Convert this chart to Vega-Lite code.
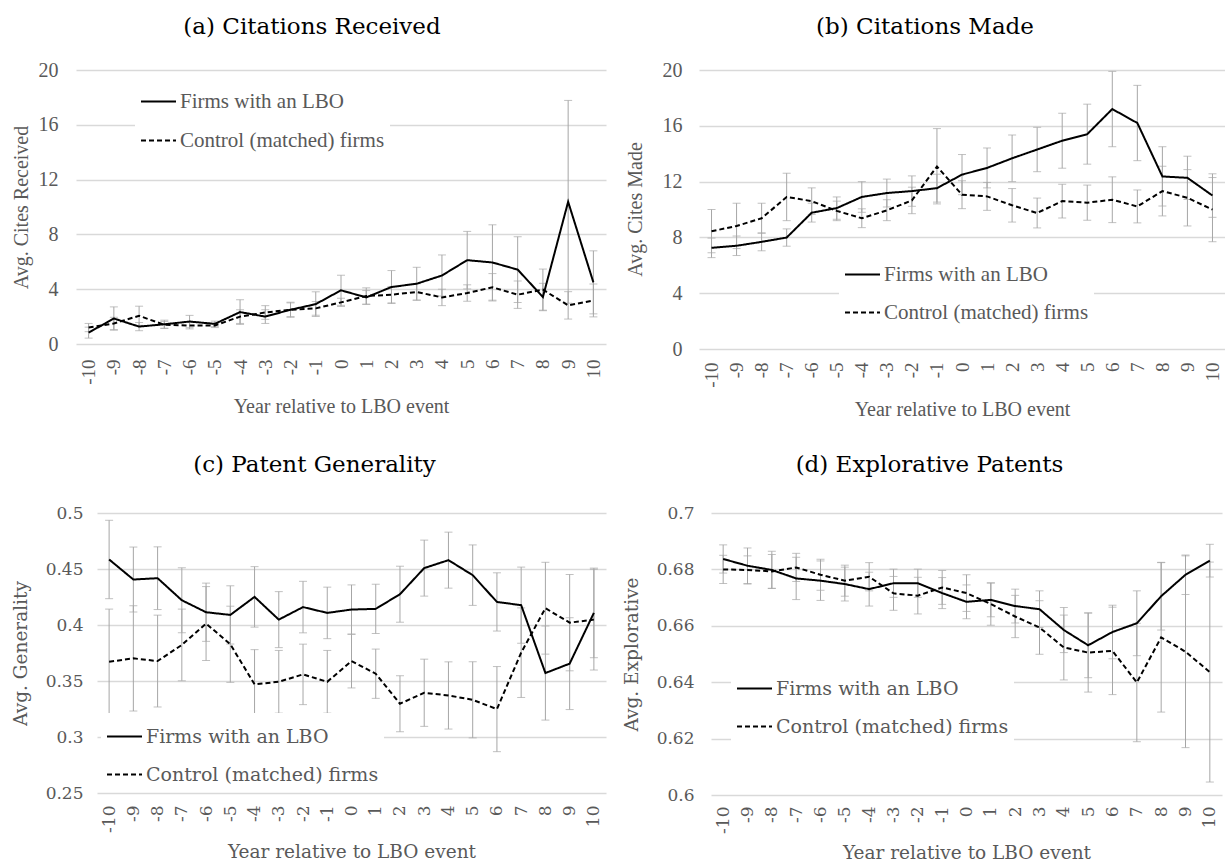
{
  "$schema": "https://vega.github.io/schema/vega-lite/v6.json",
  "background": "white",
  "padding": {"left": 10, "top": 16, "right": 0, "bottom": 0},
  "config": {
    "view": {"stroke": null},
    "axis": {"domain": false, "ticks": false, "gridColor": "#d9d9d9", "gridWidth": 1.3, "labelColor": "#595959", "titleColor": "#595959", "titleFontWeight": "normal"},
    "title": {"font": "DejaVu Serif", "fontSize": 23, "fontWeight": "normal", "color": "black", "anchor": "middle", "frame": "group", "baseline": "alphabetic"},
    "legend": {"title": null, "symbolType": "stroke", "symbolSize": 1225, "symbolStrokeWidth": 2, "symbolStrokeColor": "black", "labelColor": "#595959", "labelOffset": 3, "fillColor": "white", "padding": 5, "labelLimit": 400}
  },
  "datasets": {
    "a": [
      {"yr": -10, "s": "Firms with an LBO", "v": 0.83, "lo": 0.43, "hi": 1.23},
      {"yr": -9, "s": "Firms with an LBO", "v": 1.86, "lo": 1.01, "hi": 2.71},
      {"yr": -8, "s": "Firms with an LBO", "v": 1.27, "lo": 0.97, "hi": 1.57},
      {"yr": -7, "s": "Firms with an LBO", "v": 1.44, "lo": 1.14, "hi": 1.74},
      {"yr": -6, "s": "Firms with an LBO", "v": 1.64, "lo": 1.19, "hi": 2.09},
      {"yr": -5, "s": "Firms with an LBO", "v": 1.47, "lo": 1.27, "hi": 1.67},
      {"yr": -4, "s": "Firms with an LBO", "v": 2.33, "lo": 1.43, "hi": 3.23},
      {"yr": -3, "s": "Firms with an LBO", "v": 2.0, "lo": 1.5, "hi": 2.5},
      {"yr": -2, "s": "Firms with an LBO", "v": 2.5, "lo": 1.95, "hi": 3.05},
      {"yr": -1, "s": "Firms with an LBO", "v": 2.91, "lo": 2.01, "hi": 3.81},
      {"yr": 0, "s": "Firms with an LBO", "v": 3.92, "lo": 2.82, "hi": 5.02},
      {"yr": 1, "s": "Firms with an LBO", "v": 3.4, "lo": 2.9, "hi": 3.9},
      {"yr": 2, "s": "Firms with an LBO", "v": 4.16, "lo": 2.96, "hi": 5.36},
      {"yr": 3, "s": "Firms with an LBO", "v": 4.4, "lo": 3.2, "hi": 5.6},
      {"yr": 4, "s": "Firms with an LBO", "v": 5.0, "lo": 3.5, "hi": 6.5},
      {"yr": 5, "s": "Firms with an LBO", "v": 6.12, "lo": 4.02, "hi": 8.22},
      {"yr": 6, "s": "Firms with an LBO", "v": 5.95, "lo": 3.2, "hi": 8.7},
      {"yr": 7, "s": "Firms with an LBO", "v": 5.43, "lo": 3.03, "hi": 7.83},
      {"yr": 8, "s": "Firms with an LBO", "v": 3.43, "lo": 2.43, "hi": 4.43},
      {"yr": 9, "s": "Firms with an LBO", "v": 10.38, "lo": 2.98, "hi": 17.78},
      {"yr": 10, "s": "Firms with an LBO", "v": 4.5, "lo": 2.2, "hi": 6.8},
      {"yr": -10, "s": "Control (matched) firms", "v": 1.2, "lo": 0.9, "hi": 1.5},
      {"yr": -9, "s": "Control (matched) firms", "v": 1.5, "lo": 1.05, "hi": 1.95},
      {"yr": -8, "s": "Control (matched) firms", "v": 2.06, "lo": 1.36, "hi": 2.76},
      {"yr": -7, "s": "Control (matched) firms", "v": 1.4, "lo": 1.15, "hi": 1.65},
      {"yr": -6, "s": "Control (matched) firms", "v": 1.35, "lo": 1.1, "hi": 1.6},
      {"yr": -5, "s": "Control (matched) firms", "v": 1.35, "lo": 1.2, "hi": 1.5},
      {"yr": -4, "s": "Control (matched) firms", "v": 2.0, "lo": 1.5, "hi": 2.5},
      {"yr": -3, "s": "Control (matched) firms", "v": 2.3, "lo": 1.8, "hi": 2.8},
      {"yr": -2, "s": "Control (matched) firms", "v": 2.5, "lo": 2.0, "hi": 3.0},
      {"yr": -1, "s": "Control (matched) firms", "v": 2.6, "lo": 2.1, "hi": 3.1},
      {"yr": 0, "s": "Control (matched) firms", "v": 3.04, "lo": 2.74, "hi": 3.34},
      {"yr": 1, "s": "Control (matched) firms", "v": 3.5, "lo": 2.9, "hi": 4.1},
      {"yr": 2, "s": "Control (matched) firms", "v": 3.6, "lo": 3.0, "hi": 4.2},
      {"yr": 3, "s": "Control (matched) firms", "v": 3.8, "lo": 3.2, "hi": 4.4},
      {"yr": 4, "s": "Control (matched) firms", "v": 3.4, "lo": 2.8, "hi": 4.0},
      {"yr": 5, "s": "Control (matched) firms", "v": 3.72, "lo": 3.12, "hi": 4.32},
      {"yr": 6, "s": "Control (matched) firms", "v": 4.14, "lo": 3.14, "hi": 5.14},
      {"yr": 7, "s": "Control (matched) firms", "v": 3.6, "lo": 2.6, "hi": 4.6},
      {"yr": 8, "s": "Control (matched) firms", "v": 3.97, "lo": 2.47, "hi": 5.47},
      {"yr": 9, "s": "Control (matched) firms", "v": 2.82, "lo": 1.82, "hi": 3.82},
      {"yr": 10, "s": "Control (matched) firms", "v": 3.18, "lo": 1.98, "hi": 4.38}
    ],
    "b": [
      {"yr": -10, "s": "Firms with an LBO", "v": 7.25, "lo": 6.55, "hi": 7.95},
      {"yr": -9, "s": "Firms with an LBO", "v": 7.4, "lo": 6.7, "hi": 8.1},
      {"yr": -8, "s": "Firms with an LBO", "v": 7.68, "lo": 7.04, "hi": 8.32},
      {"yr": -7, "s": "Firms with an LBO", "v": 7.99, "lo": 7.37, "hi": 8.61},
      {"yr": -6, "s": "Firms with an LBO", "v": 9.77, "lo": 9.1, "hi": 10.45},
      {"yr": -5, "s": "Firms with an LBO", "v": 10.1, "lo": 9.3, "hi": 10.9},
      {"yr": -4, "s": "Firms with an LBO", "v": 10.9, "lo": 9.8, "hi": 12.0},
      {"yr": -3, "s": "Firms with an LBO", "v": 11.18, "lo": 10.18, "hi": 12.18},
      {"yr": -2, "s": "Firms with an LBO", "v": 11.32, "lo": 10.23, "hi": 12.41},
      {"yr": -1, "s": "Firms with an LBO", "v": 11.53, "lo": 10.53, "hi": 12.53},
      {"yr": 0, "s": "Firms with an LBO", "v": 12.5, "lo": 11.06, "hi": 13.94},
      {"yr": 1, "s": "Firms with an LBO", "v": 12.98, "lo": 11.55, "hi": 14.41},
      {"yr": 2, "s": "Firms with an LBO", "v": 13.67, "lo": 12.0, "hi": 15.34},
      {"yr": 3, "s": "Firms with an LBO", "v": 14.3, "lo": 12.71, "hi": 15.89},
      {"yr": 4, "s": "Firms with an LBO", "v": 14.93, "lo": 12.96, "hi": 16.9},
      {"yr": 5, "s": "Firms with an LBO", "v": 15.4, "lo": 13.25, "hi": 17.55},
      {"yr": 6, "s": "Firms with an LBO", "v": 17.2, "lo": 14.5, "hi": 19.9},
      {"yr": 7, "s": "Firms with an LBO", "v": 16.2, "lo": 13.5, "hi": 18.9},
      {"yr": 8, "s": "Firms with an LBO", "v": 12.37, "lo": 10.25, "hi": 14.5},
      {"yr": 9, "s": "Firms with an LBO", "v": 12.27, "lo": 10.72, "hi": 13.82},
      {"yr": 10, "s": "Firms with an LBO", "v": 11.0, "lo": 9.44, "hi": 12.56},
      {"yr": -10, "s": "Control (matched) firms", "v": 8.44, "lo": 6.9, "hi": 10.0},
      {"yr": -9, "s": "Control (matched) firms", "v": 8.82, "lo": 7.2, "hi": 10.45},
      {"yr": -8, "s": "Control (matched) firms", "v": 9.37, "lo": 8.3, "hi": 10.45},
      {"yr": -7, "s": "Control (matched) firms", "v": 10.9, "lo": 9.2, "hi": 12.6},
      {"yr": -6, "s": "Control (matched) firms", "v": 10.6, "lo": 9.65, "hi": 11.55},
      {"yr": -5, "s": "Control (matched) firms", "v": 9.9, "lo": 9.2, "hi": 10.6},
      {"yr": -4, "s": "Control (matched) firms", "v": 9.37, "lo": 8.7, "hi": 10.05},
      {"yr": -3, "s": "Control (matched) firms", "v": 9.94, "lo": 9.2, "hi": 10.7},
      {"yr": -2, "s": "Control (matched) firms", "v": 10.65, "lo": 9.7, "hi": 11.6},
      {"yr": -1, "s": "Control (matched) firms", "v": 13.08, "lo": 10.4, "hi": 15.8},
      {"yr": 0, "s": "Control (matched) firms", "v": 11.06, "lo": 10.06, "hi": 12.06},
      {"yr": 1, "s": "Control (matched) firms", "v": 10.94, "lo": 9.94, "hi": 11.94},
      {"yr": 2, "s": "Control (matched) firms", "v": 10.3, "lo": 9.1, "hi": 11.5},
      {"yr": 3, "s": "Control (matched) firms", "v": 9.75, "lo": 8.68, "hi": 10.82},
      {"yr": 4, "s": "Control (matched) firms", "v": 10.6, "lo": 9.39, "hi": 11.81},
      {"yr": 5, "s": "Control (matched) firms", "v": 10.49, "lo": 9.23, "hi": 11.75},
      {"yr": 6, "s": "Control (matched) firms", "v": 10.7, "lo": 9.06, "hi": 12.34},
      {"yr": 7, "s": "Control (matched) firms", "v": 10.22, "lo": 9.04, "hi": 11.4},
      {"yr": 8, "s": "Control (matched) firms", "v": 11.32, "lo": 9.54, "hi": 13.1},
      {"yr": 9, "s": "Control (matched) firms", "v": 10.84, "lo": 8.82, "hi": 12.86},
      {"yr": 10, "s": "Control (matched) firms", "v": 9.99, "lo": 7.69, "hi": 12.29}
    ],
    "c": [
      {"yr": -10, "s": "Firms with an LBO", "v": 0.4585, "lo": 0.4235, "hi": 0.4935},
      {"yr": -9, "s": "Firms with an LBO", "v": 0.4406, "lo": 0.4116, "hi": 0.4696},
      {"yr": -8, "s": "Firms with an LBO", "v": 0.4418, "lo": 0.4138, "hi": 0.4698},
      {"yr": -7, "s": "Firms with an LBO", "v": 0.4221, "lo": 0.3931, "hi": 0.4511},
      {"yr": -6, "s": "Firms with an LBO", "v": 0.4114, "lo": 0.3854, "hi": 0.4374},
      {"yr": -5, "s": "Firms with an LBO", "v": 0.409, "lo": 0.383, "hi": 0.435},
      {"yr": -4, "s": "Firms with an LBO", "v": 0.4251, "lo": 0.3981, "hi": 0.4521},
      {"yr": -3, "s": "Firms with an LBO", "v": 0.4048, "lo": 0.3798, "hi": 0.4298},
      {"yr": -2, "s": "Firms with an LBO", "v": 0.416, "lo": 0.393, "hi": 0.439},
      {"yr": -1, "s": "Firms with an LBO", "v": 0.4108, "lo": 0.3878, "hi": 0.4338},
      {"yr": 0, "s": "Firms with an LBO", "v": 0.4138, "lo": 0.3918, "hi": 0.4358},
      {"yr": 1, "s": "Firms with an LBO", "v": 0.4144, "lo": 0.3924, "hi": 0.4364},
      {"yr": 2, "s": "Firms with an LBO", "v": 0.4275, "lo": 0.4025, "hi": 0.4525},
      {"yr": 3, "s": "Firms with an LBO", "v": 0.4508, "lo": 0.4258, "hi": 0.4758},
      {"yr": 4, "s": "Firms with an LBO", "v": 0.4579, "lo": 0.4329, "hi": 0.4829},
      {"yr": 5, "s": "Firms with an LBO", "v": 0.4445, "lo": 0.4175, "hi": 0.4715},
      {"yr": 6, "s": "Firms with an LBO", "v": 0.4206, "lo": 0.3946, "hi": 0.4466},
      {"yr": 7, "s": "Firms with an LBO", "v": 0.4177, "lo": 0.3837, "hi": 0.4517},
      {"yr": 8, "s": "Firms with an LBO", "v": 0.3571, "lo": 0.3151, "hi": 0.3991},
      {"yr": 9, "s": "Firms with an LBO", "v": 0.3655, "lo": 0.3245, "hi": 0.4065},
      {"yr": 10, "s": "Firms with an LBO", "v": 0.4108, "lo": 0.3708, "hi": 0.4508},
      {"yr": -10, "s": "Control (matched) firms", "v": 0.3672, "lo": 0.3202, "hi": 0.4142},
      {"yr": -9, "s": "Control (matched) firms", "v": 0.3702, "lo": 0.3232, "hi": 0.4172},
      {"yr": -8, "s": "Control (matched) firms", "v": 0.3678, "lo": 0.3268, "hi": 0.4088},
      {"yr": -7, "s": "Control (matched) firms", "v": 0.3822, "lo": 0.3502, "hi": 0.4142},
      {"yr": -6, "s": "Control (matched) firms", "v": 0.4013, "lo": 0.3683, "hi": 0.4343},
      {"yr": -5, "s": "Control (matched) firms", "v": 0.3828, "lo": 0.3488, "hi": 0.4168},
      {"yr": -4, "s": "Control (matched) firms", "v": 0.347, "lo": 0.316, "hi": 0.378},
      {"yr": -3, "s": "Control (matched) firms", "v": 0.3493, "lo": 0.3213, "hi": 0.3773},
      {"yr": -2, "s": "Control (matched) firms", "v": 0.3559, "lo": 0.3289, "hi": 0.3829},
      {"yr": -1, "s": "Control (matched) firms", "v": 0.3493, "lo": 0.3213, "hi": 0.3773},
      {"yr": 0, "s": "Control (matched) firms", "v": 0.3678, "lo": 0.3438, "hi": 0.3918},
      {"yr": 1, "s": "Control (matched) firms", "v": 0.3565, "lo": 0.3345, "hi": 0.3785},
      {"yr": 2, "s": "Control (matched) firms", "v": 0.3297, "lo": 0.3047, "hi": 0.3547},
      {"yr": 3, "s": "Control (matched) firms", "v": 0.3395, "lo": 0.3095, "hi": 0.3695},
      {"yr": 4, "s": "Control (matched) firms", "v": 0.3371, "lo": 0.3071, "hi": 0.3671},
      {"yr": 5, "s": "Control (matched) firms", "v": 0.3332, "lo": 0.2992, "hi": 0.3672},
      {"yr": 6, "s": "Control (matched) firms", "v": 0.3249, "lo": 0.2869, "hi": 0.3629},
      {"yr": 7, "s": "Control (matched) firms", "v": 0.3753, "lo": 0.3353, "hi": 0.4153},
      {"yr": 8, "s": "Control (matched) firms", "v": 0.415, "lo": 0.374, "hi": 0.456},
      {"yr": 9, "s": "Control (matched) firms", "v": 0.4021, "lo": 0.3591, "hi": 0.4451},
      {"yr": 10, "s": "Control (matched) firms", "v": 0.4048, "lo": 0.3598, "hi": 0.4498}
    ],
    "d": [
      {"yr": -10, "s": "Firms with an LBO", "v": 0.6837, "lo": 0.6787, "hi": 0.6887},
      {"yr": -9, "s": "Firms with an LBO", "v": 0.6813, "lo": 0.675, "hi": 0.6876},
      {"yr": -8, "s": "Firms with an LBO", "v": 0.6798, "lo": 0.6732, "hi": 0.6864},
      {"yr": -7, "s": "Firms with an LBO", "v": 0.6768, "lo": 0.6693, "hi": 0.6843},
      {"yr": -6, "s": "Firms with an LBO", "v": 0.676, "lo": 0.669, "hi": 0.683},
      {"yr": -5, "s": "Firms with an LBO", "v": 0.6748, "lo": 0.6688, "hi": 0.6808},
      {"yr": -4, "s": "Firms with an LBO", "v": 0.673, "lo": 0.667, "hi": 0.679},
      {"yr": -3, "s": "Firms with an LBO", "v": 0.6751, "lo": 0.6701, "hi": 0.6801},
      {"yr": -2, "s": "Firms with an LBO", "v": 0.6751, "lo": 0.6701, "hi": 0.6801},
      {"yr": -1, "s": "Firms with an LBO", "v": 0.6716, "lo": 0.6661, "hi": 0.6771},
      {"yr": 0, "s": "Firms with an LBO", "v": 0.6685, "lo": 0.6625, "hi": 0.6745},
      {"yr": 1, "s": "Firms with an LBO", "v": 0.6692, "lo": 0.6632, "hi": 0.6752},
      {"yr": 2, "s": "Firms with an LBO", "v": 0.667, "lo": 0.661, "hi": 0.673},
      {"yr": 3, "s": "Firms with an LBO", "v": 0.6659, "lo": 0.6594, "hi": 0.6724},
      {"yr": 4, "s": "Firms with an LBO", "v": 0.6585, "lo": 0.6505, "hi": 0.6665},
      {"yr": 5, "s": "Firms with an LBO", "v": 0.6531, "lo": 0.6416, "hi": 0.6646},
      {"yr": 6, "s": "Firms with an LBO", "v": 0.6578, "lo": 0.6483, "hi": 0.6673},
      {"yr": 7, "s": "Firms with an LBO", "v": 0.6609, "lo": 0.6494, "hi": 0.6724},
      {"yr": 8, "s": "Firms with an LBO", "v": 0.6705, "lo": 0.6585, "hi": 0.6825},
      {"yr": 9, "s": "Firms with an LBO", "v": 0.6781, "lo": 0.6711, "hi": 0.6851},
      {"yr": 10, "s": "Firms with an LBO", "v": 0.6831, "lo": 0.6773, "hi": 0.6889},
      {"yr": -10, "s": "Control (matched) firms", "v": 0.68, "lo": 0.675, "hi": 0.685},
      {"yr": -9, "s": "Control (matched) firms", "v": 0.6798, "lo": 0.6748, "hi": 0.6848},
      {"yr": -8, "s": "Control (matched) firms", "v": 0.6793, "lo": 0.6733, "hi": 0.6853},
      {"yr": -7, "s": "Control (matched) firms", "v": 0.6807, "lo": 0.6757, "hi": 0.6857},
      {"yr": -6, "s": "Control (matched) firms", "v": 0.6781, "lo": 0.6726, "hi": 0.6836},
      {"yr": -5, "s": "Control (matched) firms", "v": 0.676, "lo": 0.6705, "hi": 0.6815},
      {"yr": -4, "s": "Control (matched) firms", "v": 0.6774, "lo": 0.6724, "hi": 0.6824},
      {"yr": -3, "s": "Control (matched) firms", "v": 0.6715, "lo": 0.6655, "hi": 0.6775},
      {"yr": -2, "s": "Control (matched) firms", "v": 0.6707, "lo": 0.6642, "hi": 0.6772},
      {"yr": -1, "s": "Control (matched) firms", "v": 0.6736, "lo": 0.6676, "hi": 0.6796},
      {"yr": 0, "s": "Control (matched) firms", "v": 0.6716, "lo": 0.6651, "hi": 0.6781},
      {"yr": 1, "s": "Control (matched) firms", "v": 0.6677, "lo": 0.6602, "hi": 0.6752},
      {"yr": 2, "s": "Control (matched) firms", "v": 0.6633, "lo": 0.6558, "hi": 0.6708},
      {"yr": 3, "s": "Control (matched) firms", "v": 0.6594, "lo": 0.6499, "hi": 0.6689},
      {"yr": 4, "s": "Control (matched) firms", "v": 0.6523, "lo": 0.6408, "hi": 0.6638},
      {"yr": 5, "s": "Control (matched) firms", "v": 0.6505, "lo": 0.6365, "hi": 0.6645},
      {"yr": 6, "s": "Control (matched) firms", "v": 0.6511, "lo": 0.6356, "hi": 0.6666},
      {"yr": 7, "s": "Control (matched) firms", "v": 0.6399, "lo": 0.6189, "hi": 0.6609},
      {"yr": 8, "s": "Control (matched) firms", "v": 0.6559, "lo": 0.6294, "hi": 0.6824},
      {"yr": 9, "s": "Control (matched) firms", "v": 0.6508, "lo": 0.6168, "hi": 0.6848},
      {"yr": 10, "s": "Control (matched) firms", "v": 0.6436, "lo": 0.6046, "hi": 0.6826}
    ]
  },
  "bounds": "full",
  "spacing": 34,
  "resolve": {"scale": {"strokeDash": "independent"}, "legend": {"strokeDash": "independent"}},
  "vconcat": [
    {
      "hconcat": [
        {
          "width": 530, "height": 274,
          "data": {"name": "a"},
          "title": {"text": "(a) Citations Received", "offset": 21, "dx": -29},
          "encoding": {
            "x": {"field": "yr", "type": "quantitative", "scale": {"domain": [-10.5, 10.5], "nice": false, "zero": false},
              "axis": {"values": [-10,-9,-8,-7,-6,-5,-4,-3,-2,-1,0,1,2,3,4,5,6,7,8,9,10], "labelExpr": "'' + datum.value", "grid": false, "labelAngle": 270, "labelPadding": 15, "labelFont": "Liberation Serif", "labelFontSize": 19, "title": "Year relative to LBO event", "titleFont": "Liberation Serif", "titleFontSize": 20, "titlePadding": 12}}
          },
          "layer": [
            {"mark": {"type": "rule", "color": "#a6a6a6", "strokeWidth": 1},
              "encoding": {"y": {"field": "lo", "type": "quantitative", "title": "Avg. Cites Received", "scale": {"domain": [0, 20], "nice": false, "zero": false},
                "axis": {"values": [0,4,8,12,16,20], "grid": true, "labelFont": "Liberation Serif", "labelFontSize": 20, "labelPadding": 18, "titleFont": "Liberation Serif", "titleFontSize": 20, "titleX": -45, "titleY": 137, "titleBaseline": "bottom"}},
                "y2": {"field": "hi"}}},
            {"mark": {"type": "tick", "orient": "horizontal", "color": "#a6a6a6", "size": 8, "thickness": 1},
              "encoding": {"y": {"field": "lo", "type": "quantitative", "title": "Avg. Cites Received"}}},
            {"mark": {"type": "tick", "orient": "horizontal", "color": "#a6a6a6", "size": 8, "thickness": 1},
              "encoding": {"y": {"field": "hi", "type": "quantitative", "title": "Avg. Cites Received"}}},
            {"mark": {"type": "line", "color": "black", "strokeWidth": 2},
              "encoding": {"y": {"field": "v", "type": "quantitative", "title": "Avg. Cites Received"},
                "strokeDash": {"field": "s", "type": "nominal", "scale": {"domain": ["Firms with an LBO", "Control (matched) firms"], "range": [[1, 0], [5, 3]]},
                  "legend": {"orient": "none", "legendX": 59, "legendY": 8, "labelFont": "Liberation Serif", "labelFontSize": 21, "rowPadding": 10}}}}
          ]
        },
        {
          "width": 526, "height": 279,
          "data": {"name": "b"},
          "title": {"text": "(b) Citations Made", "offset": 21, "dx": -37},
          "encoding": {
            "x": {"field": "yr", "type": "quantitative", "scale": {"domain": [-10.5, 10.5], "nice": false, "zero": false},
              "axis": {"values": [-10,-9,-8,-7,-6,-5,-4,-3,-2,-1,0,1,2,3,4,5,6,7,8,9,10], "labelExpr": "'' + datum.value", "grid": false, "labelAngle": 270, "labelPadding": 13, "labelFont": "Liberation Serif", "labelFontSize": 19, "title": "Year relative to LBO event", "titleFont": "Liberation Serif", "titleFontSize": 20, "titlePadding": 12}}
          },
          "layer": [
            {"mark": {"type": "rule", "color": "#a6a6a6", "strokeWidth": 1},
              "encoding": {"y": {"field": "lo", "type": "quantitative", "title": "Avg. Cites Made", "scale": {"domain": [0, 20], "nice": false, "zero": false},
                "axis": {"values": [0,4,8,12,16,20], "grid": true, "labelFont": "Liberation Serif", "labelFontSize": 20, "labelPadding": 17, "titleFont": "Liberation Serif", "titleFontSize": 20, "titleX": -54, "titleY": 139, "titleBaseline": "bottom"}},
                "y2": {"field": "hi"}}},
            {"mark": {"type": "tick", "orient": "horizontal", "color": "#a6a6a6", "size": 8, "thickness": 1},
              "encoding": {"y": {"field": "lo", "type": "quantitative", "title": "Avg. Cites Made"}}},
            {"mark": {"type": "tick", "orient": "horizontal", "color": "#a6a6a6", "size": 8, "thickness": 1},
              "encoding": {"y": {"field": "hi", "type": "quantitative", "title": "Avg. Cites Made"}}},
            {"mark": {"type": "line", "color": "black", "strokeWidth": 2},
              "encoding": {"y": {"field": "v", "type": "quantitative", "title": "Avg. Cites Made"},
                "strokeDash": {"field": "s", "type": "nominal", "scale": {"domain": ["Firms with an LBO", "Control (matched) firms"], "range": [[1, 0], [5, 3]]},
                  "legend": {"orient": "none", "legendX": 140, "legendY": 181, "labelFont": "Liberation Serif", "labelFontSize": 21, "rowPadding": 9}}}}
          ]
        }
      ],
      "spacing": 93,
      "bounds": "flush",
      "resolve": {"scale": {"strokeDash": "independent"}, "legend": {"strokeDash": "independent"}}
    },
    {
      "hconcat": [
        {
          "width": 1, "height": 1,
          "data": {"values": []},
          "mark": {"type": "point", "opacity": 0}
        },
        {
          "hconcat": [
            {
              "width": 509, "height": 280,
              "data": {"name": "c"},
              "title": {"text": "(c) Patent Generality", "offset": 27, "dx": -37},
              "encoding": {
                "x": {"field": "yr", "type": "quantitative", "scale": {"domain": [-10.5, 10.5], "nice": false, "zero": false},
                  "axis": {"values": [-10,-9,-8,-7,-6,-5,-4,-3,-2,-1,0,1,2,3,4,5,6,7,8,9,10], "labelExpr": "'' + datum.value", "grid": false, "labelAngle": 270, "labelPadding": 12, "labelFont": "DejaVu Serif", "labelFontSize": 17, "title": "Year relative to LBO event", "titleFont": "DejaVu Serif", "titleFontSize": 18.5, "titlePadding": 10}}
              },
              "layer": [
                {"mark": {"type": "rule", "color": "#a6a6a6", "strokeWidth": 1},
                  "encoding": {"y": {"field": "lo", "type": "quantitative", "title": "Avg. Generality", "scale": {"domain": [0.25, 0.5], "nice": false, "zero": false},
                    "axis": {"values": [0.25,0.3,0.35,0.4,0.45,0.5], "format": ".2~f", "grid": true, "labelFont": "DejaVu Serif", "labelFontSize": 17, "labelPadding": 14, "titleFont": "DejaVu Serif", "titleFontSize": 18.5, "titleX": -67, "titleY": 140, "titleBaseline": "bottom"}},
                    "y2": {"field": "hi"}}},
                {"mark": {"type": "tick", "orient": "horizontal", "color": "#a6a6a6", "size": 8, "thickness": 1},
                  "encoding": {"y": {"field": "lo", "type": "quantitative", "title": "Avg. Generality"}}},
                {"mark": {"type": "tick", "orient": "horizontal", "color": "#a6a6a6", "size": 8, "thickness": 1},
                  "encoding": {"y": {"field": "hi", "type": "quantitative", "title": "Avg. Generality"}}},
                {"mark": {"type": "line", "color": "black", "strokeWidth": 2},
                  "encoding": {"y": {"field": "v", "type": "quantitative", "title": "Avg. Generality"},
                    "strokeDash": {"field": "s", "type": "nominal", "scale": {"domain": ["Firms with an LBO", "Control (matched) firms"], "range": [[1, 0], [5, 3]]},
                      "legend": {"orient": "none", "legendX": 4, "legendY": 200, "labelFont": "DejaVu Serif", "labelFontSize": 19, "rowPadding": 9}}}}
              ]
            },
            {
              "width": 511, "height": 282,
              "data": {"name": "d"},
              "title": {"text": "(d) Explorative Patents", "offset": 27, "dx": -37},
              "encoding": {
                "x": {"field": "yr", "type": "quantitative", "scale": {"domain": [-10.5, 10.5], "nice": false, "zero": false},
                  "axis": {"values": [-10,-9,-8,-7,-6,-5,-4,-3,-2,-1,0,1,2,3,4,5,6,7,8,9,10], "labelExpr": "'' + datum.value", "grid": false, "labelAngle": 270, "labelPadding": 11, "labelFont": "DejaVu Serif", "labelFontSize": 17, "title": "Year relative to LBO event", "titleFont": "DejaVu Serif", "titleFontSize": 18.5, "titlePadding": 10}}
              },
              "layer": [
                {"mark": {"type": "rule", "color": "#a6a6a6", "strokeWidth": 1},
                  "encoding": {"y": {"field": "lo", "type": "quantitative", "title": "Avg. Explorative", "scale": {"domain": [0.6, 0.7], "nice": false, "zero": false},
                    "axis": {"values": [0.6,0.62,0.64,0.66,0.68,0.7], "format": ".2~f", "grid": true, "labelFont": "DejaVu Serif", "labelFontSize": 17, "labelPadding": 17, "titleFont": "DejaVu Serif", "titleFontSize": 18.5, "titleX": -70, "titleY": 141, "titleBaseline": "bottom"}},
                    "y2": {"field": "hi"}}},
                {"mark": {"type": "tick", "orient": "horizontal", "color": "#a6a6a6", "size": 8, "thickness": 1},
                  "encoding": {"y": {"field": "lo", "type": "quantitative", "title": "Avg. Explorative"}}},
                {"mark": {"type": "tick", "orient": "horizontal", "color": "#a6a6a6", "size": 8, "thickness": 1},
                  "encoding": {"y": {"field": "hi", "type": "quantitative", "title": "Avg. Explorative"}}},
                {"mark": {"type": "line", "color": "black", "strokeWidth": 2},
                  "encoding": {"y": {"field": "v", "type": "quantitative", "title": "Avg. Explorative"},
                    "strokeDash": {"field": "s", "type": "nominal", "scale": {"domain": ["Firms with an LBO", "Control (matched) firms"], "range": [[1, 0], [5, 3]]},
                      "legend": {"orient": "none", "legendX": 20, "legendY": 152, "labelFont": "DejaVu Serif", "labelFontSize": 19, "rowPadding": 9}}}}
              ]
            }
          ],
          "spacing": 105,
          "bounds": "flush",
          "resolve": {"scale": {"strokeDash": "independent"}, "legend": {"strokeDash": "independent"}}
        }
      ],
      "spacing": 20,
      "bounds": "flush",
      "resolve": {"scale": {"strokeDash": "independent"}, "legend": {"strokeDash": "independent"}}
    }
  ]
}
